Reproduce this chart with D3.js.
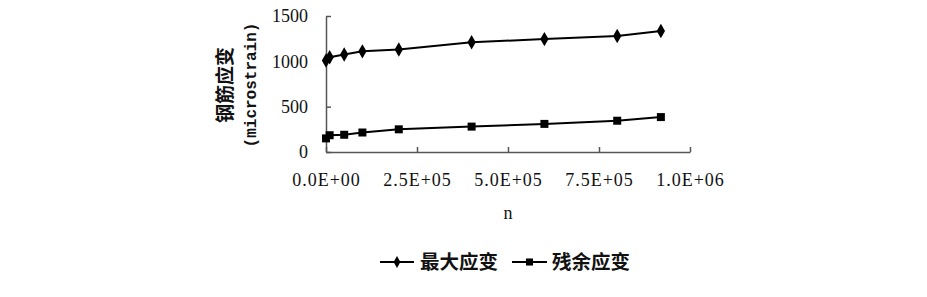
<!DOCTYPE html>
<html>
<head>
<meta charset="utf-8">
<script src="https://cdn.jsdelivr.net/npm/d3@7"></script>
<style>
  body { margin: 0; background: #fff; }
  svg text { fill: #111; }
</style>
</head>
<body>
<svg id="chart" width="927" height="297"></svg>
<script>
// 荷载循环次数
const cycles = [0, 1e4, 5e4, 1e5, 2e5, 4e5, 6e5, 8e5, 9.2e5];
const maxStrain = [1010, 1045, 1075, 1110, 1130, 1210, 1245, 1280, 1335];
const residualStrain = [150, 185, 190, 215, 250, 280, 310, 345, 385];
const xTicks = [0, 2.5e5, 5e5, 7.5e5, 1e6];
const xTickLabels = ['0.0E+00', '2.5E+05', '5.0E+05', '7.5E+05', '1.0E+06'];
const yTicks = [0, 500, 1000, 1500];
const seriesNames = ['最大应变', '残余应变'];

const svg = d3.select('#chart');
const serifFont = '"Liberation Serif", serif';
const monoFont = '"Liberation Mono", monospace';
const cjkFont = '"Noto Sans CJK SC", sans-serif';

const x = d3.scaleLinear().domain([0, 1e6]).range([326, 690]);
const y = d3.scaleLinear().domain([0, 1500]).range([152, 16]);

// 坐标轴（刻度朝内）
const xAxis = d3.axisBottom(x)
  .tickValues(xTicks)
  .tickFormat((d, i) => xTickLabels[i])
  .tickSizeInner(-5)
  .tickSizeOuter(0)
  .tickPadding(21);
const gx = svg.append('g').attr('transform', `translate(0,${y(0)})`).call(xAxis);

const yAxis = d3.axisLeft(y)
  .tickValues(yTicks)
  .tickFormat(d3.format('d'))
  .tickSizeInner(-5)
  .tickSizeOuter(0)
  .tickPadding(18);
const gy = svg.append('g').attr('transform', `translate(${x(0)},0)`).call(yAxis);

[gx, gy].forEach(g => {
  g.select('.domain').attr('stroke', '#555').attr('stroke-width', 1.5);
  g.selectAll('.tick line').attr('stroke', '#555').attr('stroke-width', 1.5);
  g.selectAll('.tick text')
    .attr('font-family', serifFont)
    .attr('font-size', 18)
    .attr('fill', '#111');
});
gx.selectAll('.tick text').attr('letter-spacing', 1);

// 轴标题
svg.append('text')
  .attr('x', 508).attr('y', 219)
  .attr('text-anchor', 'middle')
  .attr('font-family', serifFont)
  .attr('font-size', 18)
  .text('n');

svg.append('text')
  .attr('transform', 'translate(232,85) rotate(-90)')
  .attr('text-anchor', 'middle')
  .attr('font-family', cjkFont)
  .attr('font-weight', 'bold')
  .attr('font-size', 19)
  .text('钢筋应变');

svg.append('text')
  .attr('transform', 'translate(256,85) rotate(-90)')
  .attr('text-anchor', 'middle')
  .attr('font-family', monoFont)
  .attr('font-weight', 'bold')
  .attr('font-size', 16)
  .text('(microstrain)');

// 数据线
const line = d3.line()
  .x(d => x(d[0]))
  .y(d => y(d[1]));

const series = [
  { values: maxStrain, marker: d3.symbolDiamond, size: 60 },
  { values: residualStrain, marker: d3.symbolSquare, size: 64 }
];

series.forEach(s => {
  const pts = cycles.map((c, i) => [c, s.values[i]]);
  svg.append('path')
    .datum(pts)
    .attr('d', line)
    .attr('fill', 'none')
    .attr('stroke', '#000')
    .attr('stroke-width', 2);
  svg.selectAll(null)
    .data(pts)
    .join('path')
    .attr('transform', d => `translate(${x(d[0])},${y(d[1])})`)
    .attr('d', d3.symbol().type(s.marker).size(s.size))
    .attr('fill', '#000');
});

// 图例
const legendItems = [
  { x0: 380, x1: 414, tx: 420, marker: d3.symbolDiamond, size: 40 },
  { x0: 512, x1: 547, tx: 552, marker: d3.symbolSquare, size: 50 }
];
legendItems.forEach((item, i) => {
  const g = svg.append('g');
  g.append('line')
    .attr('x1', item.x0).attr('x2', item.x1)
    .attr('y1', 262).attr('y2', 262)
    .attr('stroke', '#000').attr('stroke-width', 2);
  g.append('path')
    .attr('transform', `translate(${(item.x0 + item.x1) / 2},262)`)
    .attr('d', d3.symbol().type(item.marker).size(item.size))
    .attr('fill', '#000');
  g.append('text')
    .attr('x', item.tx).attr('y', 269)
    .attr('font-family', cjkFont)
    .attr('font-weight', 'bold')
    .attr('font-size', 19.5)
    .text(seriesNames[i]);
});
</script>
</body>
</html>
